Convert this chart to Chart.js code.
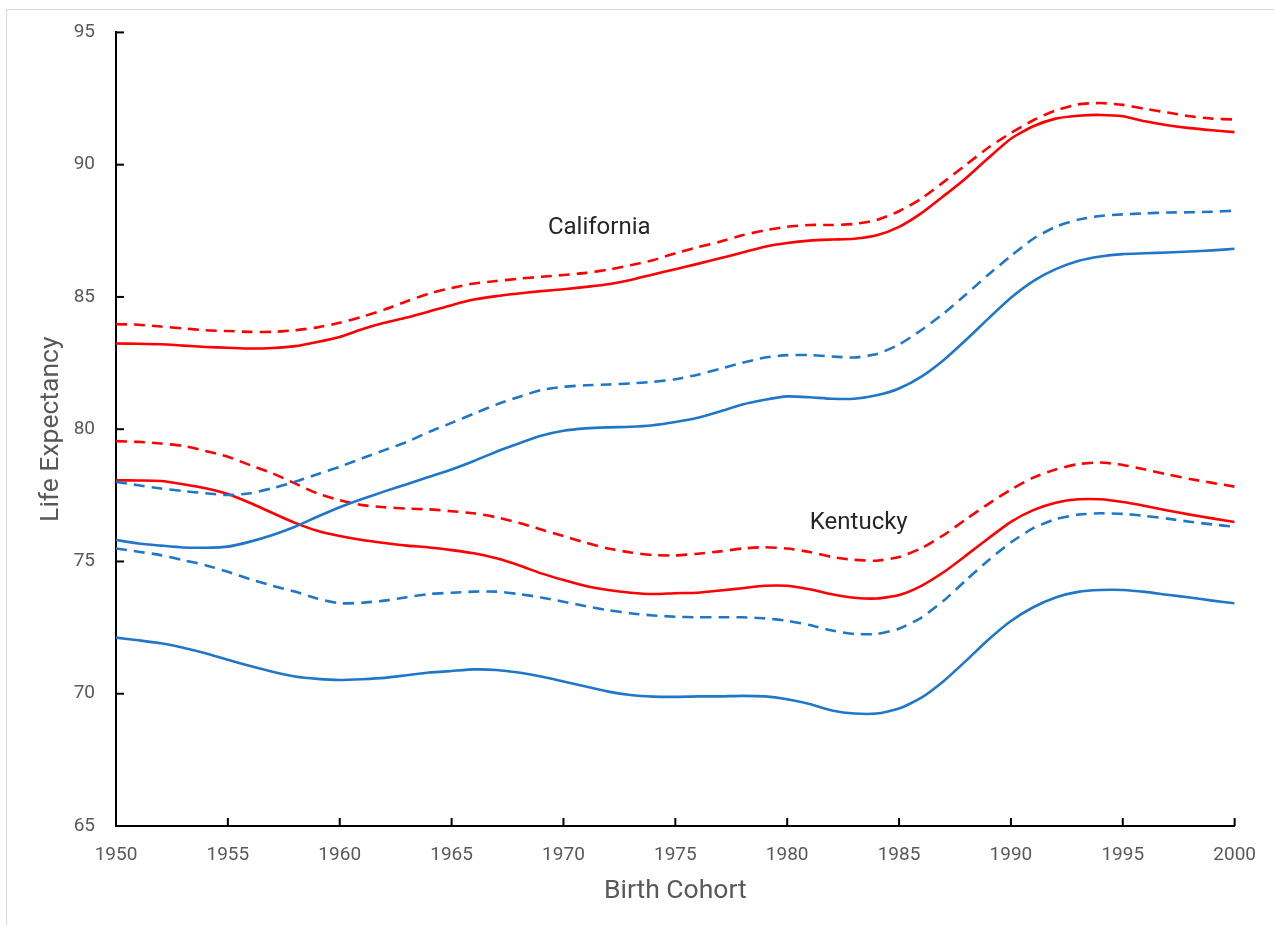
<!DOCTYPE html>
<html>
<head>
<meta charset="utf-8">
<title>Life Expectancy by Birth Cohort</title>
<script src="https://cdn.jsdelivr.net/npm/chart.js@4.4.1/dist/chart.umd.min.js"></script>
<style>
  html, body { margin: 0; padding: 0; background: #fff; }
  #wrap { position: relative; width: 1274px; height: 925px; }
</style>
</head>
<body>
<div id="wrap"><canvas id="lifeChart"></canvas></div>
<script>
// birth cohorts (x categories)
const years = [1950, 1951, 1952, 1953, 1954, 1955, 1956, 1957, 1958, 1959,
               1960, 1961, 1962, 1963, 1964, 1965, 1966, 1967, 1968, 1969,
               1970, 1971, 1972, 1973, 1974, 1975, 1976, 1977, 1978, 1979,
               1980, 1981, 1982, 1983, 1984, 1985, 1986, 1987, 1988, 1989,
               1990, 1991, 1992, 1993, 1994, 1995, 1996, 1997, 1998, 1999, 2000];

const xTicks = [1950, 1955, 1960, 1965, 1970, 1975, 1980, 1985, 1990, 1995, 2000];
const yTicks = [65, 70, 75, 80, 85, 90, 95];

// California
const caRedDashed = [83.97, 83.95, 83.88, 83.81, 83.74, 83.71, 83.68, 83.68, 83.74, 83.85,
                     84.02, 84.25, 84.52, 84.84, 85.13, 85.34, 85.51, 85.60, 85.69, 85.76,
                     85.83, 85.91, 86.03, 86.20, 86.39, 86.65, 86.88, 87.09, 87.33, 87.52,
                     87.65, 87.72, 87.72, 87.76, 87.91, 88.24, 88.72, 89.35, 90.00, 90.65,
                     91.20, 91.68, 92.05, 92.28, 92.33, 92.26, 92.11, 91.97, 91.83, 91.74, 91.71];
const caRedSolid = [83.24, 83.23, 83.21, 83.16, 83.11, 83.08, 83.05, 83.07, 83.14, 83.30,
                    83.49, 83.78, 84.02, 84.22, 84.45, 84.69, 84.90, 85.03, 85.13, 85.22,
                    85.29, 85.38, 85.48, 85.64, 85.85, 86.05, 86.25, 86.46, 86.68, 86.90,
                    87.04, 87.13, 87.17, 87.20, 87.33, 87.65, 88.17, 88.82, 89.50, 90.26,
                    90.98, 91.45, 91.74, 91.85, 91.88, 91.83, 91.64, 91.49, 91.38, 91.30, 91.23];
const caBlueDashed = [78.01, 77.88, 77.76, 77.66, 77.58, 77.51, 77.58, 77.77, 78.01, 78.30,
                      78.58, 78.90, 79.21, 79.52, 79.90, 80.24, 80.59, 80.93, 81.22, 81.48,
                      81.60, 81.66, 81.69, 81.73, 81.79, 81.89, 82.06, 82.28, 82.51, 82.71,
                      82.80, 82.80, 82.75, 82.71, 82.84, 83.20, 83.75, 84.38, 85.10, 85.85,
                      86.55, 87.20, 87.65, 87.92, 88.06, 88.12, 88.16, 88.19, 88.20, 88.22, 88.26];
const caBlueSolid = [75.81, 75.68, 75.60, 75.53, 75.52, 75.56, 75.75, 76.00, 76.31, 76.69,
                     77.05, 77.36, 77.65, 77.92, 78.20, 78.48, 78.80, 79.15, 79.46, 79.75,
                     79.94, 80.03, 80.07, 80.09, 80.15, 80.27, 80.43, 80.67, 80.93, 81.11,
                     81.24, 81.21, 81.15, 81.15, 81.28, 81.54, 81.99, 82.62, 83.38, 84.19,
                     84.97, 85.60, 86.05, 86.36, 86.53, 86.62, 86.65, 86.68, 86.72, 86.76, 86.82];

// Kentucky
const kyRedDashed = [79.55, 79.52, 79.46, 79.37, 79.18, 78.96, 78.64, 78.33, 77.95, 77.57,
                     77.32, 77.13, 77.05, 77.00, 76.97, 76.90, 76.82, 76.67, 76.46, 76.21,
                     75.96, 75.71, 75.49, 75.34, 75.24, 75.23, 75.29, 75.38, 75.49, 75.54,
                     75.49, 75.36, 75.17, 75.06, 75.03, 75.17, 75.50, 76.00, 76.60, 77.18,
                     77.72, 78.17, 78.48, 78.68, 78.74, 78.65, 78.48, 78.29, 78.12, 77.97, 77.83];
const kyRedSolid = [78.07, 78.06, 78.04, 77.92, 77.77, 77.55, 77.21, 76.83, 76.46, 76.16,
                    75.96, 75.81, 75.70, 75.60, 75.53, 75.43, 75.31, 75.12, 74.86, 74.55,
                    74.30, 74.07, 73.92, 73.82, 73.77, 73.80, 73.82, 73.90, 73.99, 74.08,
                    74.08, 73.95, 73.76, 73.63, 73.60, 73.73, 74.08, 74.60, 75.23, 75.88,
                    76.50, 76.94, 77.22, 77.35, 77.35, 77.25, 77.10, 76.93, 76.77, 76.63, 76.49];
const kyBlueDashed = [75.49, 75.37, 75.24, 75.05, 74.86, 74.61, 74.33, 74.08, 73.86, 73.60,
                      73.42, 73.44, 73.52, 73.65, 73.77, 73.82, 73.86, 73.86, 73.77, 73.64,
                      73.48, 73.31, 73.16, 73.04, 72.96, 72.91, 72.89, 72.89, 72.89, 72.85,
                      72.76, 72.60, 72.39, 72.26, 72.26, 72.46, 72.88, 73.52, 74.30, 75.05,
                      75.72, 76.26, 76.60, 76.77, 76.82, 76.80, 76.72, 76.62, 76.50, 76.40, 76.31];
const kyBlueSolid = [72.12, 72.02, 71.91, 71.74, 71.53, 71.28, 71.05, 70.83, 70.65, 70.56,
                     70.52, 70.55, 70.60, 70.70, 70.80, 70.86, 70.92, 70.90, 70.80, 70.65,
                     70.46, 70.27, 70.08, 69.95, 69.89, 69.88, 69.90, 69.90, 69.92, 69.90,
                     69.79, 69.61, 69.37, 69.25, 69.25, 69.44, 69.85, 70.48, 71.25, 72.05,
                     72.75, 73.27, 73.64, 73.85, 73.92, 73.92, 73.85, 73.74, 73.64, 73.52, 73.42];

// text labels placed in data coordinates
const stateLabels = [
    { text: "California", x: 1971.6, y: 87.6 },
    { text: "Kentucky", x: 1983.2, y: 76.45 }
];

const RED = "#ff0000";
const BLUE = "#1f77c9";
const FONT = "Roboto";

function series(values, color, dashed) {
    return {
        data: years.map((yr, i) => ({ x: yr, y: values[i] })),
        borderColor: color,
        borderWidth: 2.6,
        borderDash: dashed ? [11, 7] : [],
        pointRadius: 0,
        tension: 0.2,
        fill: false
    };
}

// 안쪽 눈금 + 테두리 + 주 레이블
const decorPlugin = {
    id: "decor",
    beforeDraw(chart) {
        const ctx = chart.ctx;
        ctx.save();
        ctx.strokeStyle = "#d9d9d9";
        ctx.lineWidth = 1;
        ctx.strokeRect(6.5, 9.5, 1290, 940);
        ctx.restore();
    },
    afterDraw(chart) {
        const { ctx, chartArea, scales } = chart;
        ctx.save();
        ctx.strokeStyle = "#000";
        ctx.lineWidth = 2;
        xTicks.forEach(v => {
            const px = scales.x.getPixelForValue(v);
            ctx.beginPath();
            ctx.moveTo(px, chartArea.bottom);
            ctx.lineTo(px, chartArea.bottom - 8);
            ctx.stroke();
        });
        yTicks.forEach(v => {
            const py = scales.y.getPixelForValue(v);
            ctx.beginPath();
            ctx.moveTo(chartArea.left, py);
            ctx.lineTo(chartArea.left + 8, py);
            ctx.stroke();
        });
        ctx.fillStyle = "#262626";
        ctx.font = "24px " + FONT;
        ctx.textAlign = "center";
        ctx.textBaseline = "middle";
        stateLabels.forEach(l => {
            ctx.fillText(l.text, scales.x.getPixelForValue(l.x), scales.y.getPixelForValue(l.y));
        });
        ctx.restore();
    }
};

new Chart(document.getElementById("lifeChart"), {
    type: "line",
    data: {
        datasets: [
            series(caRedDashed, RED, true),
            series(caRedSolid, RED, false),
            series(caBlueDashed, BLUE, true),
            series(caBlueSolid, BLUE, false),
            series(kyRedDashed, RED, true),
            series(kyRedSolid, RED, false),
            series(kyBlueDashed, BLUE, true),
            series(kyBlueSolid, BLUE, false)
        ]
    },
    options: {
        responsive: true,
        maintainAspectRatio: false,
        animation: false,
        layout: { padding: { left: 0, top: 32, right: 39, bottom: 0 } },
        plugins: {
            legend: { display: false },
            tooltip: { enabled: false }
        },
        scales: {
            x: {
                type: "linear",
                min: 1950,
                max: 2000,
                afterFit: s => { s.height = 99; },
                afterBuildTicks: s => { s.ticks = xTicks.map(v => ({ value: v })); },
                grid: { display: false, drawTicks: false },
                border: { color: "#000", width: 2 },
                ticks: {
                    color: "#595959",
                    font: { family: FONT, size: 19 },
                    padding: 18,
                    maxRotation: 0,
                    callback: v => String(v)
                },
                title: {
                    display: true,
                    text: "Birth Cohort",
                    color: "#595959",
                    font: { family: FONT, size: 26.5 },
                    padding: { top: 0, bottom: 18 }
                }
            },
            y: {
                min: 65,
                max: 95,
                afterFit: s => { s.width = 116; },
                afterBuildTicks: s => { s.ticks = yTicks.map(v => ({ value: v })); },
                grid: { display: false, drawTicks: false },
                border: { color: "#000", width: 2 },
                ticks: {
                    color: "#595959",
                    font: { family: FONT, size: 19 },
                    padding: 21
                },
                title: {
                    display: true,
                    text: "Life Expectancy",
                    color: "#595959",
                    font: { family: FONT, size: 26.5 },
                    padding: { top: 35, bottom: 0 }
                }
            }
        }
    },
    plugins: [decorPlugin]
});
</script>
</body>
</html>
